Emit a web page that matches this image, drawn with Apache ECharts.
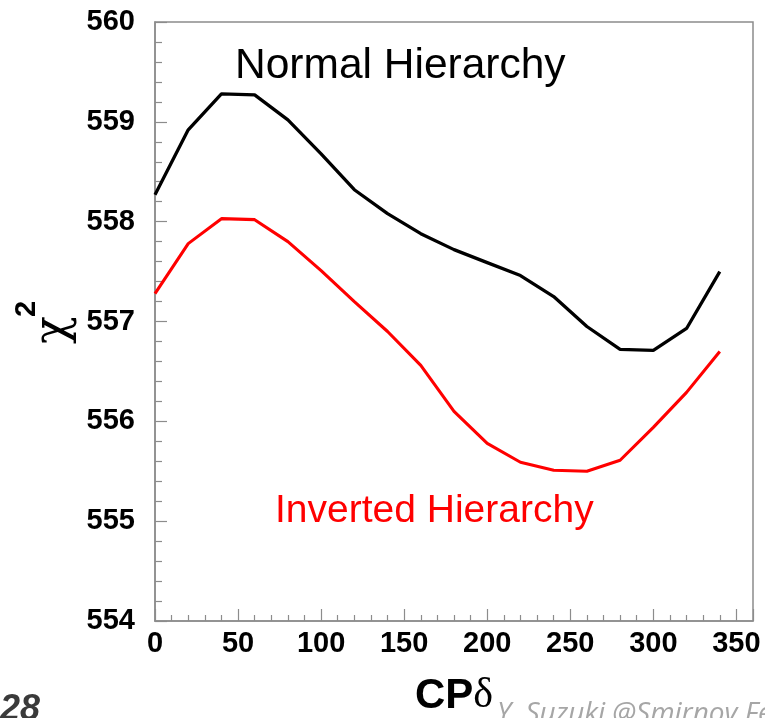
<!DOCTYPE html>
<html>
<head>
<meta charset="utf-8">
<script src="https://cdn.jsdelivr.net/npm/echarts@6/dist/echarts.min.js"></script>
<style>
  html, body { margin: 0; padding: 0; background: #fff; }
  #chart { width: 765px; height: 718px; }
</style>
</head>
<body>
<div id="chart"></div>
<script>
// CP phase (degrees) scanned in 20-degree steps
const deltaCP = [0, 20, 40, 60, 80, 100, 120, 140, 160, 180, 200, 220, 240, 260, 280, 300, 320, 340];
// chi-square for the normal mass hierarchy
const chi2Normal = [558.27, 558.92, 559.28, 559.27, 559.02, 558.68, 558.32, 558.08, 557.88, 557.72,
                    557.59, 557.46, 557.25, 556.95, 556.72, 556.71, 556.93, 557.50];
// chi-square for the inverted mass hierarchy
const chi2Inverted = [557.28, 557.78, 558.03, 558.02, 557.80, 557.51, 557.20, 556.90, 556.56, 556.10,
                      555.78, 555.59, 555.51, 555.50, 555.61, 555.94, 556.29, 556.70];
// axis tick labels
const xTicks = [0, 50, 100, 150, 200, 250, 300, 350];
const yTicks = [554, 555, 556, 557, 558, 559, 560];

const pairs = (ys) => deltaCP.map((d, i) => [d, ys[i]]);

const chart = echarts.init(document.getElementById('chart'), null, { renderer: 'canvas' });

const frameColor = '#8c8c8c';
const sans = '"Liberation Sans", Arial, sans-serif';
const tickFont = { fontFamily: sans, fontWeight: 'bold', fontSize: 29, color: '#000' };

chart.setOption({
  animation: false,
  backgroundColor: '#fff',
  grid: {
    left: 155, top: 22, right: 12, bottom: 97,
    outerBoundsMode: 'none',
    containLabel: false,
    show: true, borderColor: frameColor, borderWidth: 1.5, backgroundColor: 'transparent'
  },
  xAxis: {
    type: 'value',
    min: 0, max: 360, interval: 50,
    axisLine: { show: true, lineStyle: { color: frameColor, width: 1.5 } },
    axisTick: { show: true, inside: true, length: 12, lineStyle: { color: frameColor, width: 1.2 } },
    minorTick: { show: true, splitNumber: 5, length: 6, lineStyle: { color: frameColor, width: 1.2 } },
    splitLine: { show: false },
    axisLabel: Object.assign({ margin: 8, formatter: (v) => (xTicks.includes(v) ? String(v) : '') }, tickFont),
    name: '{cp|CP}{d|δ}',
    nameLocation: 'middle',
    nameGap: 54,
    nameTextStyle: {
      rich: {
        cp: { fontFamily: sans, fontWeight: 'bold', fontSize: 42, color: '#000' },
        d: { fontFamily: '"Liberation Serif", serif', fontSize: 42, color: '#000' }
      }
    }
  },
  yAxis: {
    type: 'value',
    min: 554, max: 560, interval: 1,
    axisLine: { show: true, lineStyle: { color: frameColor, width: 1.5 } },
    axisTick: { show: true, inside: true, length: 12, lineStyle: { color: frameColor, width: 1.2 } },
    minorTick: { show: true, splitNumber: 5, length: 7, lineStyle: { color: frameColor, width: 1.2 } },
    splitLine: { show: false },
    axisLabel: Object.assign({ margin: 20, formatter: (v) => (yTicks.includes(v) ? String(v) : '') }, tickFont)
  },
  series: [
    {
      name: 'Normal Hierarchy',
      type: 'line',
      data: pairs(chi2Normal),
      symbol: 'none',
      lineStyle: { color: '#000', width: 3.3 },
      z: 3
    },
    {
      name: 'Inverted Hierarchy',
      type: 'line',
      data: pairs(chi2Inverted),
      symbol: 'none',
      lineStyle: { color: '#ff0000', width: 3.1 },
      z: 3
    }
  ],
  graphic: [
    {
      type: 'text', x: 235, y: 66,
      style: { text: 'Normal Hierarchy', fill: '#000', font: '42.5px ' + sans,
               textAlign: 'left', textVerticalAlign: 'middle' }
    },
    {
      type: 'text', x: 275, y: 511,
      style: { text: 'Inverted Hierarchy', fill: '#ff0000', font: '39px ' + sans,
               textAlign: 'left', textVerticalAlign: 'middle' }
    },
    // y-axis title: chi with a raised 2, both turned to read upwards
    {
      type: 'text', x: 54, y: 330, rotation: Math.PI / 2,
      style: { text: 'χ', fill: '#000', font: '46px "DejaVu Serif", serif',
               textAlign: 'center', textVerticalAlign: 'middle' }
    },
    {
      type: 'text', x: 27, y: 309, rotation: Math.PI / 2,
      style: { text: '2', fill: '#000', font: 'bold 29px ' + sans,
               textAlign: 'center', textVerticalAlign: 'middle' }
    },
    {
      type: 'text', x: 0, y: 692,
      style: { text: '28', fill: '#3a3a3a', font: 'italic bold 36px ' + sans,
               textAlign: 'left', textVerticalAlign: 'top' }
    },
    {
      type: 'text', x: 497, y: 700,
      style: { text: 'Y. Suzuki @Smirnov Fest', fill: '#a6a6a6', font: 'italic 28px "Open Sans", "Liberation Sans", sans-serif',
               textAlign: 'left', textVerticalAlign: 'top' }
    }
  ]
});
</script>
</body>
</html>
